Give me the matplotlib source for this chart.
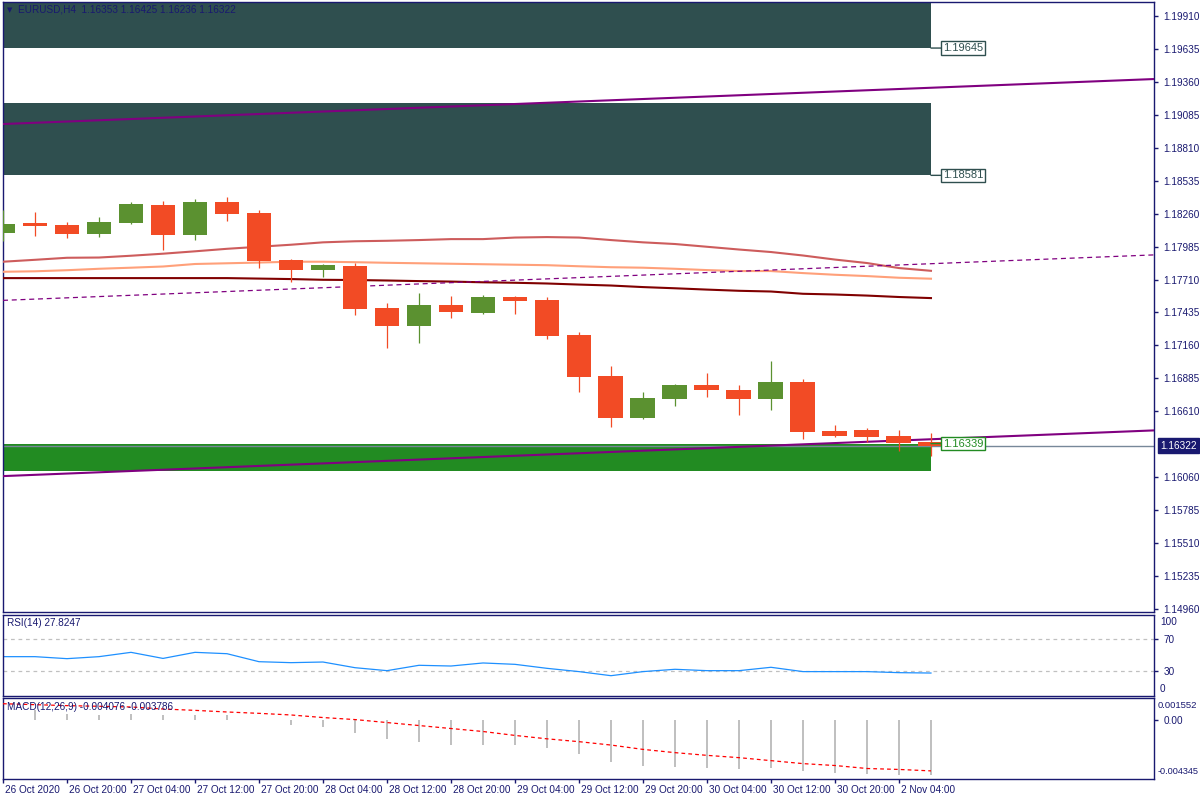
import matplotlib
matplotlib.use('Agg')
import matplotlib.pyplot as plt
from matplotlib.patches import Rectangle
from matplotlib.transforms import ScaledTranslation
import numpy as np

plt.rcParams['font.family'] = ['Liberation Sans', 'DejaVu Sans']

# ---- chart data ----
header = "EURUSD,H4  1.16353 1.16425 1.16236 1.16322"

time_labels = ["26 Oct 2020", "26 Oct 20:00", "27 Oct 04:00", "27 Oct 12:00", "27 Oct 20:00",
               "28 Oct 04:00", "28 Oct 12:00", "28 Oct 20:00", "29 Oct 04:00", "29 Oct 12:00",
               "29 Oct 20:00", "30 Oct 04:00", "30 Oct 12:00", "30 Oct 20:00", "2 Nov 04:00"]
label_bars = [0, 2, 4, 6, 8, 10, 12, 14, 16, 18, 20, 22, 24, 26, 28]

opens = [1.18101, 1.18182, 1.18165, 1.18093, 1.18185, 1.18333, 1.18084, 1.18358, 1.18266, 1.17873,
         1.17792, 1.17823, 1.17472, 1.17324, 1.17497, 1.17432, 1.17564, 1.17539, 1.17246, 1.16903,
         1.16555, 1.16714, 1.16828, 1.16786, 1.16714, 1.16853, 1.16444, 1.16452, 1.16402, 1.16353]
highs = [1.18291, 1.18274, 1.18188, 1.18232, 1.18358, 1.18366, 1.18383, 1.18400, 1.18291, 1.17881,
         1.17840, 1.17850, 1.17514, 1.17597, 1.17572, 1.17580, 1.17572, 1.17564, 1.17271, 1.16987,
         1.16770, 1.16836, 1.16928, 1.16828, 1.17029, 1.16878, 1.16494, 1.16469, 1.16452, 1.16425]
lows = [1.18034, 1.18076, 1.18059, 1.18068, 1.18176, 1.17959, 1.18043, 1.18201, 1.17809, 1.17692,
        1.17731, 1.17413, 1.17140, 1.17182, 1.17391, 1.17424, 1.17424, 1.17213, 1.16772, 1.16480,
        1.16546, 1.16655, 1.16730, 1.16580, 1.16622, 1.16379, 1.16396, 1.16354, 1.16279, 1.16236]
closes = [1.18174, 1.18160, 1.18093, 1.18191, 1.18341, 1.18084, 1.18358, 1.18260, 1.17867, 1.17792,
          1.17831, 1.17463, 1.17324, 1.17497, 1.17441, 1.17564, 1.17533, 1.17240, 1.16897, 1.16555,
          1.16719, 1.16828, 1.16789, 1.16714, 1.16853, 1.16438, 1.16404, 1.16396, 1.16346, 1.16322]

ma_red = [1.17859, 1.17875, 1.17892, 1.17894, 1.17909, 1.17926, 1.17946, 1.17967, 1.17984, 1.18001,
          1.18021, 1.18030, 1.18034, 1.18040, 1.18048, 1.18048, 1.18061, 1.18065, 1.18061, 1.18040,
          1.18021, 1.18007, 1.17984, 1.17961, 1.17940, 1.17911, 1.17877, 1.17848, 1.17806, 1.17783]
ma_salmon = [1.17775, 1.17779, 1.17788, 1.17800, 1.17809, 1.17819, 1.17840, 1.17846, 1.17852, 1.17859,
             1.17859, 1.17855, 1.17850, 1.17846, 1.17842, 1.17838, 1.17834, 1.17830, 1.17821, 1.17813,
             1.17809, 1.17800, 1.17789, 1.17781, 1.17781, 1.17764, 1.17750, 1.17739, 1.17725, 1.17717]
ma_maroon = [1.17722, 1.17722, 1.17722, 1.17722, 1.17722, 1.17722, 1.17722, 1.17722, 1.17718, 1.17714,
             1.17708, 1.17706, 1.17702, 1.17697, 1.17693, 1.17687, 1.17683, 1.17677, 1.17668, 1.17660,
             1.17647, 1.17637, 1.17626, 1.17616, 1.17610, 1.17591, 1.17585, 1.17576, 1.17564, 1.17555]

rsi = [48.3, 48.3, 45.8, 48.3, 53.7, 46.1, 53.7, 52.0, 42.0, 40.8,
       41.6, 34.5, 30.8, 37.5, 36.6, 40.4, 38.7, 33.7, 29.6, 24.5,
       29.6, 32.5, 30.8, 30.8, 35.0, 29.6, 29.6, 29.6, 28.3, 27.8247]

macd_main = [0.00073, 0.00073, 0.00044, 0.00037, 0.00044, 0.00032, 0.00037, 0.00032, -0.00002, -0.00037,
             -0.00056, -0.00102, -0.00146, -0.00166, -0.00188, -0.00188, -0.00188, -0.00210, -0.00254, -0.00312,
             -0.00342, -0.00349, -0.00359, -0.00364, -0.00356, -0.00381, -0.00393, -0.00398, -0.00408, -0.004076]
macd_signal = [0.00117, 0.00110, 0.00103, 0.00098, 0.00093, 0.00078, 0.00068, 0.00056, 0.00046, 0.00034,
               0.00015, 0.00000, -0.00022, -0.00044, -0.00066, -0.00088, -0.00117, -0.00142, -0.00163, -0.00188,
               -0.00220, -0.00244, -0.00264, -0.00281, -0.00303, -0.00325, -0.00339, -0.00361, -0.00368, -0.003786]

zone_top = [1.19645, 1.20100]
zone_mid = [1.18581, 1.19185]
zone_low = [1.16109, 1.16339]
zone_end_bar = 29

channel_x = [0, 35.97]
channel_upper = [1.19010, 1.19386]
channel_mid = [1.17536, 1.17916]
channel_lower = [1.16067, 1.16449]

last_price = 1.16322
price_ticks = [1.19910, 1.19635, 1.19360, 1.19085, 1.18810, 1.18535, 1.18260, 1.17985, 1.17710,
               1.17435, 1.17160, 1.16885, 1.16610, 1.16060, 1.15785, 1.15510, 1.15235, 1.14960]
price_range = [1.14931, 1.20030]
macd_range = [-0.004345, 0.001552]

# ---- styling ----
navy = '#191970'
slate = '#2F4F4F'
zone_green = '#228B22'
purple = '#800080'
bull = '#5B9130'
bear = '#F24B25'
W, H = 1200, 800


def fx(px):
    return px / W


def fy(py):
    return 1 - py / H


fig = plt.figure(figsize=(12, 8), dpi=100)
fig.patch.set_facecolor('white')

ax = fig.add_axes([fx(3), fy(612), fx(1154) - fx(3), fy(2) - fy(612)])
ax_rsi = fig.add_axes([fx(3), fy(696), fx(1154) - fx(3), fy(615) - fy(696)])
ax_macd = fig.add_axes([fx(3), fy(779), fx(1154) - fx(3), fy(698) - fy(779)])

n = len(opens)
bars = np.arange(n)
xlim = (0, channel_x[1])

for a in (ax, ax_rsi, ax_macd):
    a.set_xlim(*xlim)
    for s in a.spines.values():
        s.set_color(navy)
        s.set_linewidth(1)
    a.set_facecolor('white')

# ---- main price panel ----
ax.set_ylim(*price_range)
for lo, hi in (zone_top, zone_mid):
    ax.add_patch(Rectangle((-2, lo), zone_end_bar + 2, hi - lo, facecolor=slate, edgecolor='none', zorder=1))
ax.add_patch(Rectangle((-2, zone_low[0]), zone_end_bar + 2, zone_low[1] - zone_low[0],
                       facecolor=zone_green, edgecolor='none', zorder=1))

ax.axhline(last_price, color='#778899', lw=1, zorder=2)

ax.plot(bars, ma_red, color='#CD5C5C', lw=1.5, zorder=3)
ax.plot(bars, ma_salmon, color='#FFA07A', lw=1.5, zorder=3)
ax.plot(bars, ma_maroon, color='#800000', lw=1.5, zorder=3)

ax.plot(channel_x, channel_upper, color=purple, lw=1.5, zorder=3)
ax.plot(channel_x, channel_lower, color=purple, lw=1.5, zorder=3)
ax.plot(channel_x, channel_mid, color=purple, lw=0.9, ls=(0, (4, 3)), zorder=3)

o = np.array(opens); c = np.array(closes)
colors = [bull if cc >= oo else bear for oo, cc in zip(o, c)]
ax.vlines(bars, lows, highs, colors=colors, lw=0.9, zorder=4)
ax.bar(bars, np.abs(c - o), bottom=np.minimum(o, c), width=0.78, color=colors,
       edgecolor='none', zorder=5)

# zone price labels
for price, col in ((zone_top[0], slate), (zone_mid[0], slate), (zone_low[1], zone_green)):
    ax.annotate(f"{price:.5f}", xy=(zone_end_bar, price), xytext=(12, 0), textcoords='offset pixels',
                ha='left', va='center', fontsize=8, color=col, zorder=6,
                bbox=dict(boxstyle='square,pad=0.15', facecolor='white', edgecolor=col, lw=1),
                arrowprops=dict(arrowstyle='-', color=col, lw=1, shrinkA=0, shrinkB=0))

ax.set_xticks([])
ax.yaxis.tick_right()
ax.set_yticks(price_ticks)
ax.set_yticklabels([f"{t:.5f}" for t in price_ticks])
ax.tick_params(axis='y', length=3, width=1, color=navy, labelcolor=navy, labelsize=7.2, pad=4)

ax.annotate(f"{last_price:.5f}", xy=(1.0, last_price), xycoords=('axes fraction', 'data'),
            xytext=(6, 0), textcoords='offset pixels', ha='left', va='center',
            fontsize=7.2, color='white', annotation_clip=False,
            bbox=dict(boxstyle='square,pad=0.25', facecolor=navy, edgecolor=navy))

fig.text(fx(7), fy(10), "\u25bc", fontsize=5, color=navy, va='center', ha='left',
         family=['DejaVu Sans'])
fig.text(fx(18), fy(10), header, fontsize=7.2, color=navy, va='center', ha='left')

# ---- RSI panel ----
ax_rsi.set_ylim(-0.9, 100.4)
ax_rsi.axhline(70, color='#C0C0C0', lw=0.9, ls=(0, (3, 3)))
ax_rsi.axhline(30, color='#C0C0C0', lw=0.9, ls=(0, (3, 3)))
ax_rsi.plot(bars, rsi, color='#1E90FF', lw=0.9)
ax_rsi.set_xticks([])
ax_rsi.yaxis.tick_right()
ax_rsi.set_yticks([70, 30])
ax_rsi.set_yticklabels(["70", "30"])
ax_rsi.tick_params(axis='y', length=3, width=1, color=navy, labelcolor=navy, labelsize=7.2, pad=4)
fig.text(fx(1160), fy(622), "100", fontsize=7.2, color=navy, va='center', ha='left')
fig.text(fx(1160), fy(689), "0", fontsize=7.2, color=navy, va='center', ha='left')
fig.text(fx(7), fy(623), f"RSI(14) {rsi[-1]:.4f}", fontsize=7.2, color=navy, va='center', ha='left')

# ---- MACD panel ----
ax_macd.set_ylim(macd_range[0] - 0.00004, macd_range[1] + 0.00004)
ax_macd.bar(bars, macd_main, width=0.08, color='#C0C0C0', edgecolor='none', zorder=2)
ax_macd.plot(bars, macd_signal, color='red', lw=0.9, ls=(0, (3, 2.5)), zorder=3)
ax_macd.yaxis.tick_right()
ax_macd.set_yticks([0])
ax_macd.set_yticklabels(["0.00"])
ax_macd.tick_params(axis='y', length=3, width=1, color=navy, labelcolor=navy, labelsize=7.2, pad=4)
fig.text(fx(1158), fy(705), f"{macd_range[1]:.6f}", fontsize=6.8, color=navy, va='center', ha='left')
fig.text(fx(1199), fy(772), f"{macd_range[0]:.6f}", fontsize=6.6, color=navy, va='center', ha='right')
fig.text(fx(7), fy(707), f"MACD(12,26,9) {macd_main[-1]:.6f} {macd_signal[-1]:.6f}",
         fontsize=7.2, color=navy, va='center', ha='left', zorder=5)

ax_macd.set_xticks(label_bars)
ax_macd.set_xticklabels(time_labels)
ax_macd.tick_params(axis='x', length=3, width=1, color=navy, labelcolor=navy, labelsize=7.2, pad=1)
shift = ScaledTranslation(2 / 100, 0, fig.dpi_scale_trans)
for lab in ax_macd.get_xticklabels():
    lab.set_ha('left')
    lab.set_transform(lab.get_transform() + shift)

fig.savefig('out.png', dpi=100, facecolor='white')
